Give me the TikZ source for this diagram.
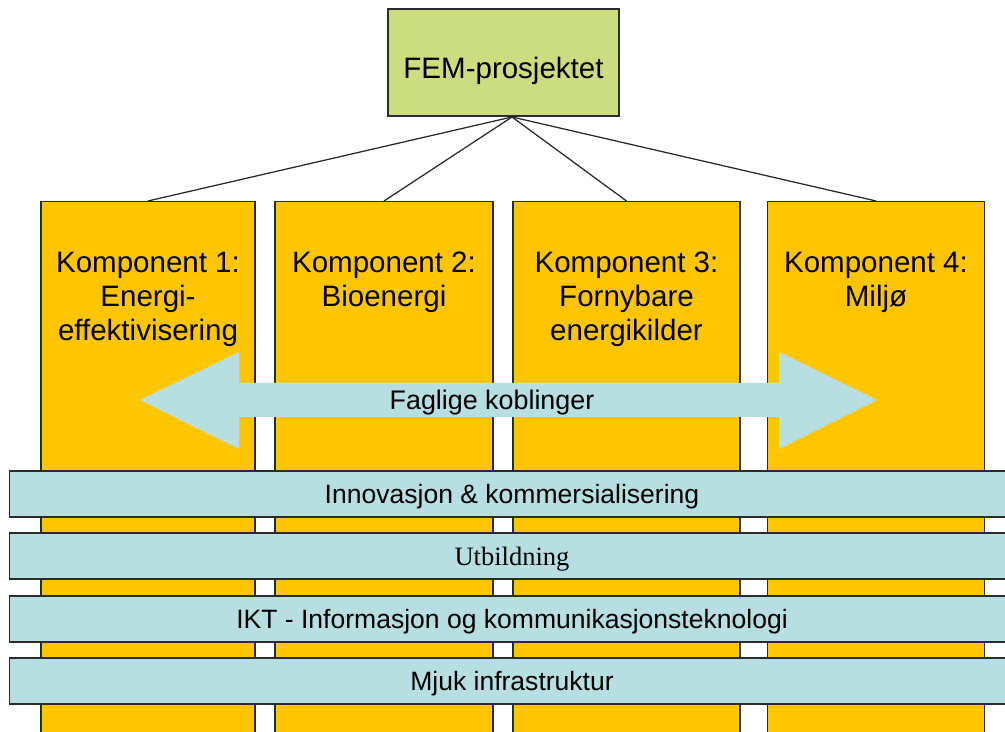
\documentclass[tikz,border=0pt]{standalone}
\usepackage{fontspec}
\setmainfont{Liberation Sans}
\newfontfamily\utbfont{Liberation Serif}
\usetikzlibrary{positioning}
\definecolor{kgul}{HTML}{FFC600}
\definecolor{kgronn}{HTML}{CCDD80}
\definecolor{kblaa}{HTML}{B7DEE1}
\definecolor{klinje}{HTML}{2B2B2B}
\tikzset{
  prosj/.style={draw=klinje,fill=kgronn,line width=0.6pt,minimum width=4.62cm,minimum height=2.14cm,inner sep=0pt,text height=0.76cm,text depth=0.12cm,font=\fontsize{16.8}{19.35}\selectfont},
  komp/.style={draw=klinje,fill=kgul,line width=0.6pt,anchor=north,minimum height=11.18cm,inner sep=0pt},
  komptxt/.style={align=center,anchor=north,inner sep=0pt,font=\fontsize{16.8}{19.35}\selectfont},
  tverr/.style={draw=klinje,fill=kblaa,line width=0.6pt,minimum width=20.12cm,minimum height=0.92cm,inner sep=0pt,text height=0.38cm,text depth=0pt,font=\fontsize{15.1}{18}\selectfont},
  grein/.style={draw=black!85,line width=0.7pt},
  pil/.style={fill=kblaa},
}
\begin{document}
\begin{tikzpicture}[x=0.02cm,y=-0.02cm]
  \useasboundingbox (0,0) rectangle (1005,732);
  \clip (0,0) rectangle (1005,732);
  % prosjekt
  \node[prosj] (fem) at (503.5,62.5) {FEM-prosjektet};
  \coordinate (hub) at (512,117);
  % komponenter
  \node[komp,minimum width=4.28cm] (k1) at (148,201) {};
  \node[komp,minimum width=4.36cm] (k2) at (384,201) {};
  \node[komp,minimum width=4.54cm] (k3) at (626.5,201) {};
  \node[komp,minimum width=4.34cm] (k4) at (876,201) {};
  \node[komptxt,yshift=-1.02cm] (t1) at (k1.north) {Komponent 1:\\Energi-\\effektivisering};
  \node[komptxt,yshift=-1.02cm] (t2) at (k2.north) {Komponent 2:\\Bioenergi};
  \node[komptxt,yshift=-1.02cm] (t3) at (k3.north) {Komponent 3:\\Fornybare\\energikilder};
  \node[komptxt,yshift=-1.02cm] (t4) at (k4.north) {Komponent 4:\\Miljø};
  \foreach \k in {k1,k2,k3,k4} { \draw[grein] (hub) -- (\k.north); }
  % faglige koblinger
  \fill[pil] (140,400) -- (239,352) -- (239,383) -- (779,383) -- (779,352) -- (877,400)
    -- (779,449) -- (779,417) -- (239,417) -- (239,449) -- cycle;
  \node[font=\fontsize{15.3}{18}\selectfont,inner sep=0pt] (fk) at (492,403) {Faglige koblinger};
  % tverrgaende
  \node[tverr] (b1) at (512,494) {Innovasjon \& kommersialisering};
  \node[tverr] (b2) at (512,556) {\utbfont Utbildning};
  \node[tverr] (b3) at (512,619) {IKT - Informasjon og kommunikasjonsteknologi};
  \node[tverr] (b4) at (512,681) {Mjuk infrastruktur};
\end{tikzpicture}
\end{document}
